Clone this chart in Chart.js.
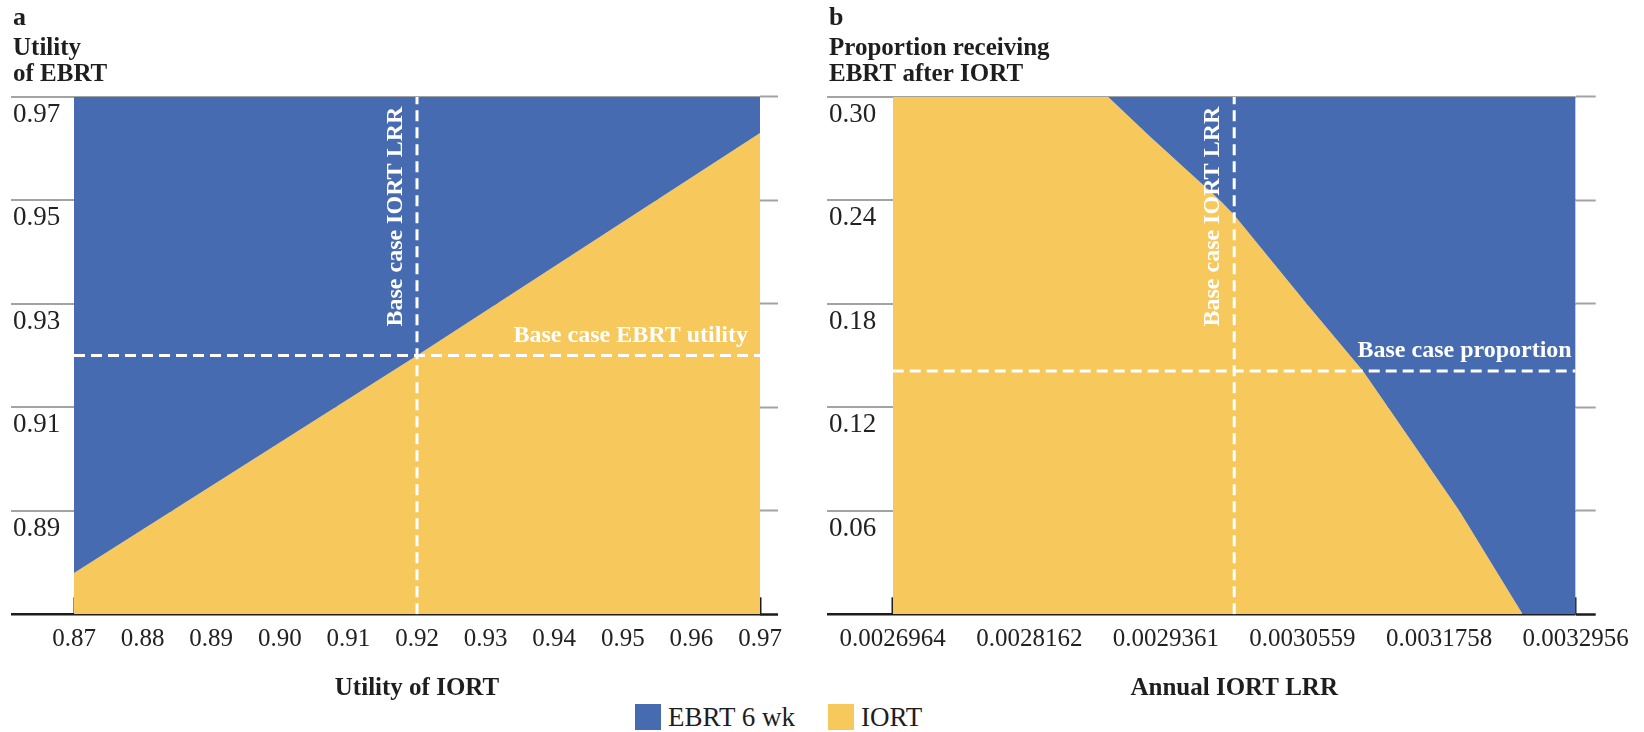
<!DOCTYPE html>
<html>
<head>
<meta charset="utf-8">
<title>IORT vs EBRT threshold analysis</title>
<script src="https://cdn.jsdelivr.net/npm/chart.js@4.4.1/dist/chart.umd.min.js"></script>
<style>
  html, body { margin: 0; padding: 0; background: #fff; }
  body { width: 1644px; height: 732px; position: relative; overflow: hidden;
         font-family: "Liberation Serif", "Times New Roman", serif; color: #1e1e1e; }
  #chartA { position: absolute; left: 0; top: 0; }
  #chartB { position: absolute; left: 816px; top: 0; }
  .legend { position: absolute; left: 635px; top: 704px; height: 26px;
            display: flex; align-items: center; font-size: 27px; line-height: 26px; }
  .legend .box { display: inline-block; width: 26px; height: 26px; margin-right: 7px; }
  .legend .item { display: flex; align-items: center; margin-right: 33px; }
</style>
</head>
<body>
<canvas id="chartA" width="800" height="700"></canvas>
<canvas id="chartB" width="828" height="700"></canvas>
<div class="legend">
  <div class="item"><span class="box" style="background:#466bb0"></span>EBRT 6 wk</div>
  <div class="item"><span class="box" style="background:#f7c85c"></span>IORT</div>
</div>

<script>
// Panel a: utility of IORT vs utility of EBRT
const utilityTicks = [0.87, 0.88, 0.89, 0.90, 0.91, 0.92, 0.93, 0.94, 0.95, 0.96, 0.97];
const ebrtUtilityTicks = [0.87, 0.89, 0.91, 0.93, 0.95, 0.97];
const utilityIort = [0.87, 0.92, 0.97];
const ebrtUtilityThreshold = [0.878, 0.92, 0.963];
const baseUtilityIort = 0.92;
const baseUtilityEbrt = 0.92;

// Panel b: annual IORT LRR vs proportion receiving EBRT after IORT
const lrrTicks = [0.0026964, 0.0028162, 0.0029361, 0.0030559, 0.0031758, 0.0032956];
const proportionTicks = [0, 0.06, 0.12, 0.18, 0.24, 0.30];
const annualLrr = [0.0026964, 0.0028853, 0.0029221, 0.0029835, 0.0029960, 0.0030596,
                   0.0031090, 0.0031310, 0.0031935, 0.0032491, 0.0032956];
const proportionThreshold = [0.30, 0.30, 0.277, 0.24, 0.2315, 0.18, 0.141, 0.12, 0.06, 0, 0];
const baseLrr = 0.002996;
const baseProportion = 0.141;

const BLUE = '#466bb0';
const YELLOW = '#f7c85c';
const GRID = '#a3a3a3';
const AXIS = '#1c1c1c';
const SERIF = '"Liberation Serif", "Times New Roman", serif';

Chart.defaults.font.family = SERIF;
Chart.defaults.color = '#1e1e1e';

// white labels next to the dashed base-case lines
const baseCaseLabels = {
  id: 'baseCaseLabels',
  afterDraw(chart, args, opts) {
    const { ctx, chartArea, scales: { x, y } } = chart;
    ctx.save();
    ctx.fillStyle = '#fff';
    ctx.font = 'bold 24px ' + SERIF;

    ctx.save();
    ctx.translate(x.getPixelForValue(opts.baseX) - 21, chartArea.top + 10);
    ctx.rotate(-Math.PI / 2);
    ctx.textAlign = 'right';
    ctx.textBaseline = 'middle';
    ctx.fillText(opts.verticalText, 0, 0);
    ctx.restore();

    ctx.textAlign = 'right';
    ctx.textBaseline = 'alphabetic';
    ctx.fillText(opts.horizontalText, chartArea.right - opts.inset, y.getPixelForValue(opts.baseY) - 14);
    ctx.restore();
  }
};

function points(xs, ys) {
  return xs.map((v, i) => ({ x: v, y: ys[i] }));
}

// labels hang past the plot edges; don't let them shrink the plot
function noEdgePadding(s) {
  s.paddingLeft = 0;
  s.paddingRight = 0;
  s.paddingTop = 0;
  s.paddingBottom = 0;
}

function makePanel(canvasId, p) {
  const yMin = p.yTicks[0];
  const yMax = p.yTicks[p.yTicks.length - 1];
  const xMin = p.xTicks[0];
  const xMax = p.xTicks[p.xTicks.length - 1];
  const isAxis = c => c.tick && c.tick.value === yMin;
  const gridColor = c => isAxis(c) ? AXIS : GRID;
  const gridWidth = c => isAxis(c) ? 2.5 : 2;

  const dashed = {
    borderColor: '#fff', borderWidth: 3, borderDash: [11, 6],
    fill: false, pointRadius: 0, order: 0
  };

  return new Chart(document.getElementById(canvasId), {
    type: 'line',
    data: {
      datasets: [
        { label: 'EBRT 6 wk', data: points(p.xs, p.ys), fill: 'end',
          backgroundColor: BLUE, borderWidth: 0, pointRadius: 0, order: 1 },
        { label: 'IORT', data: points(p.xs, p.ys), fill: 'start',
          backgroundColor: YELLOW, borderWidth: 0, pointRadius: 0, order: 1 },
        Object.assign({ label: 'base x', data: [{ x: p.baseX, y: yMin }, { x: p.baseX, y: yMax }] }, dashed),
        Object.assign({ label: 'base y', data: [{ x: xMin, y: p.baseY }, { x: xMax, y: p.baseY }] }, dashed)
      ]
    },
    options: {
      responsive: false,
      animation: false,
      devicePixelRatio: 1,
      elements: { line: { tension: 0 } },
      layout: { padding: { left: 13, right: p.padRight, top: 0, bottom: 0 } },
      plugins: {
        legend: { display: false },
        tooltip: { enabled: false },
        title: {
          display: true, text: p.letter, align: 'start', color: '#1e1e1e',
          font: { size: 26, weight: 'bold', lineHeight: 1 },
          padding: { top: 5, bottom: 0 }
        },
        subtitle: {
          display: true, text: p.yTitle, align: 'start', color: '#1e1e1e',
          font: { size: 25, weight: 'bold', lineHeight: 1.05 },
          padding: { top: 4.5, bottom: 8.7 }
        },
        baseCaseLabels: {
          baseX: p.baseX, baseY: p.baseY, inset: p.labelInset,
          verticalText: 'Base case IORT LRR', horizontalText: p.baseText
        }
      },
      scales: {
        x: {
          type: 'linear', min: xMin, max: xMax, z: 1,
          afterBuildTicks: s => { s.ticks = p.xTicks.map(v => ({ value: v })); },
          afterFit: s => { s.height = 700 - 614.3; noEdgePadding(s); },
          ticks: {
            autoSkip: false, maxRotation: 0, padding: 27, color: '#222',
            font: { size: 25 },
            callback: v => v.toFixed(p.xDigits)
          },
          grid: { drawOnChartArea: false, tickLength: -17, tickColor: AXIS, tickWidth: 2 },
          border: { display: false },
          title: {
            display: true, text: p.xTitle, color: '#1e1e1e',
            font: { size: 25, weight: 'bold', lineHeight: 0.8 },
            padding: { top: 0, bottom: 1 }
          }
        },
        y: {
          type: 'linear', min: yMin, max: yMax, z: 1,
          afterBuildTicks: s => { s.ticks = p.yTicks.map(v => ({ value: v })); },
          afterFit: s => { s.width = p.yWidth; noEdgePadding(s); },
          ticks: {
            autoSkip: false, crossAlign: 'far', labelOffset: 18, color: '#222',
            font: { size: 27 },
            callback: (v, i) => i === 0 ? '' : v.toFixed(2)
          },
          grid: {
            color: gridColor, lineWidth: gridWidth,
            tickColor: gridColor, tickWidth: gridWidth, tickLength: p.yWidth + 2
          },
          border: { display: false }
        },
        y2: {
          type: 'linear', position: 'right', min: yMin, max: yMax, z: 1,
          afterBuildTicks: s => { s.ticks = p.yTicks.map(v => ({ value: v })); },
          afterFit: s => { s.width = p.rightExt; noEdgePadding(s); },
          ticks: { display: false },
          grid: {
            drawOnChartArea: false, color: gridColor,
            tickColor: gridColor, tickWidth: gridWidth, tickLength: p.rightExt
          },
          border: { display: false }
        }
      }
    },
    plugins: [baseCaseLabels]
  });
}

makePanel('chartA', {
  letter: 'a', yTitle: ['Utility', 'of EBRT'], xTitle: 'Utility of IORT',
  xs: utilityIort, ys: ebrtUtilityThreshold,
  xTicks: utilityTicks, yTicks: ebrtUtilityTicks, xDigits: 2,
  baseX: baseUtilityIort, baseY: baseUtilityEbrt,
  baseText: 'Base case EBRT utility', labelInset: 12,
  yWidth: 61, rightExt: 18, padRight: 22
});

makePanel('chartB', {
  letter: 'b', yTitle: ['Proportion receiving', 'EBRT after IORT'], xTitle: 'Annual IORT LRR',
  xs: annualLrr, ys: proportionThreshold,
  xTicks: lrrTicks, yTicks: proportionTicks, xDigits: 7,
  baseX: baseLrr, baseY: baseProportion,
  baseText: 'Base case proportion', labelInset: 4,
  yWidth: 63.7, rightExt: 20, padRight: 48.3
});
</script>
</body>
</html>
